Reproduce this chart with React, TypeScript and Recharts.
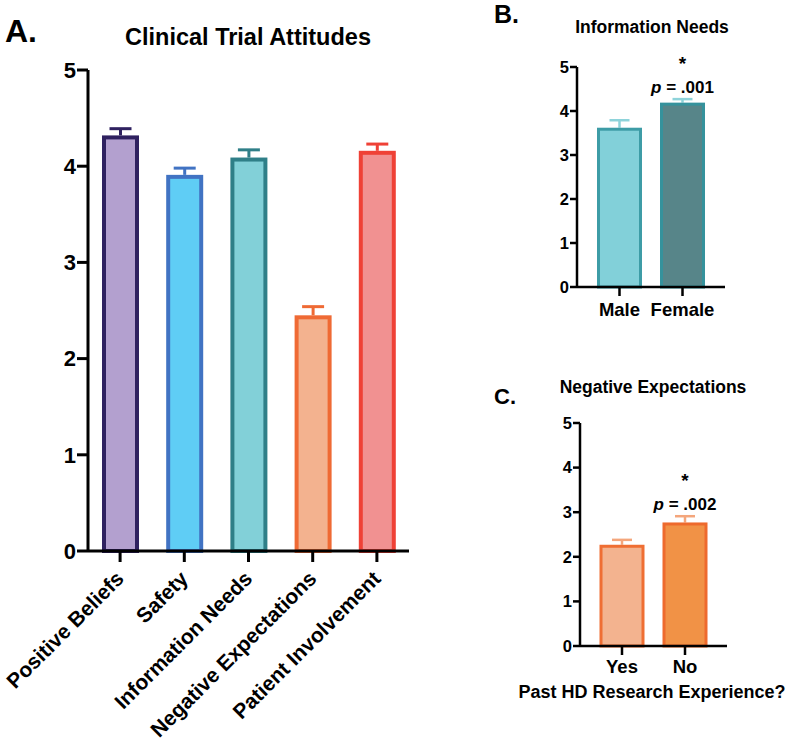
import React from "react";
import { BarChart, Bar, XAxis, YAxis } from "recharts";

// Panel A: clinical trial attitudes
const attitudeNames = [
  "Positive Beliefs",
  "Safety",
  "Information Needs",
  "Negative Expectations",
  "Patient Involvement"
];
const attitudeMeans = [4.32, 3.91, 4.09, 2.45, 4.16];
const attitudeErrors = [0.07, 0.07, 0.08, 0.09, 0.07];

// Panel B: information needs by sex
const sexGroups = ["Male", "Female"];
const infoNeedsMeans = [3.62, 4.19];
const infoNeedsErrors = [0.17, 0.08];
const infoNeedsP = ["", "p = .001"];

// Panel C: negative expectations by past HD research experience
const experienceGroups = ["Yes", "No"];
const negExpMeans = [2.27, 2.77];
const negExpErrors = [0.11, 0.14];
const negExpP = ["", "p = .002"];

const yTicks = [0, 1, 2, 3, 4, 5];

const attitudeFills = ["#b3a0cf", "#5fcdf5", "#82d0d8", "#f3b28f", "#f19191"];
const attitudeStrokes = ["#2f2160", "#4173c3", "#2f7f88", "#ef6a34", "#ef4136"];

const infoFills = ["#82d0d9", "#578589"];
const infoStrokes = ["#3d9ca6", "#35929c"];
const infoErr = ["#8ed3da", "#8ed3da"];

const negFills = ["#f3b38f", "#f19246"];
const negStrokes = ["#ef6e33", "#ee6a2d"];
const negErr = ["#f4a67c", "#f4a67c"];

const FONT = "'Liberation Sans', Arial, Helvetica, sans-serif";

const attitudeData = attitudeNames.map((name, i) => ({
  name,
  mean: attitudeMeans[i],
  err: attitudeErrors[i],
  p: ""
}));
const infoData = sexGroups.map((name, i) => ({
  name,
  mean: infoNeedsMeans[i],
  err: infoNeedsErrors[i],
  p: infoNeedsP[i]
}));
const negData = experienceGroups.map((name, i) => ({
  name,
  mean: negExpMeans[i],
  err: negExpErrors[i],
  p: negExpP[i]
}));

type ShapeOpts = {
  sw: number;
  cap: number;
  errW: number;
  fills: string[];
  strokes: string[];
  errColors: string[];
};

const makeShape = (o: ShapeOpts) => (props: any) => {
  const { x, y, width, height, index, payload } = props;
  const pxPerUnit = payload.mean > 0 ? height / payload.mean : 0;
  const errTop = y - payload.err * pxPerUnit;
  const cx = x + width / 2;
  const ec = o.errColors[index];
  return (
    <g>
      <line x1={cx} x2={cx} y1={y} y2={errTop} stroke={ec} strokeWidth={o.errW} />
      <line
        x1={cx - o.cap / 2}
        x2={cx + o.cap / 2}
        y1={errTop}
        y2={errTop}
        stroke={ec}
        strokeWidth={o.errW}
      />
      <rect
        x={x + o.sw / 2}
        y={y + o.sw / 2}
        width={width - o.sw}
        height={height - o.sw / 2}
        fill={o.fills[index]}
        stroke={o.strokes[index]}
        strokeWidth={o.sw}
      />
      {payload.p ? (
        <g fontFamily={FONT} fontWeight="bold" fill="#000">
          <text x={cx} y={errTop - 6.5} textAnchor="middle" fontSize={17}>
            <tspan fontStyle="italic">p</tspan>
            {payload.p.slice(1)}
          </text>
          <text x={cx} y={errTop - 29} textAnchor="middle" fontSize={19}>
            *
          </text>
        </g>
      ) : null}
    </g>
  );
};

const RotatedTick = (props: any) => {
  const { x, y, payload } = props;
  const ax = x + 5;
  const ay = y + 16;
  return (
    <text
      x={ax}
      y={ay}
      textAnchor="end"
      transform={`rotate(-45, ${ax}, ${ay})`}
      fontSize={21}
      fontWeight="bold"
      fontFamily={FONT}
      fill="#000"
    >
      {payload.value}
    </text>
  );
};

const overlayText = (
  x: number,
  y: number,
  s: string,
  size: number,
  anchor: "start" | "middle" = "middle"
) => (
  <text x={x} y={y} textAnchor={anchor} fontSize={size} fontWeight="bold" fontFamily={FONT} fill="#000">
    {s}
  </text>
);

export default function App() {
  const axisA = { stroke: "#000", strokeWidth: 3 };
  const axisSmall = { stroke: "#000", strokeWidth: 2.5 };
  return (
    <div
      style={{
        position: "absolute",
        left: 0,
        top: 0,
        width: 787,
        height: 745,
        background: "#fff",
        overflow: "hidden"
      }}
    >
      <div style={{ position: "absolute", left: 0, top: 0 }}>
        <BarChart
          width={470}
          height={745}
          data={attitudeData}
          margin={{ top: 70, right: 61, bottom: 44, left: 0 }}
        >
          <XAxis
            dataKey="name"
            type="category"
            interval={0}
            height={150}
            axisLine={axisA}
            tickLine={axisA}
            tickSize={11}
            tick={(p: any) => <RotatedTick {...p} />}
          />
          <YAxis
            type="number"
            domain={[0, 5]}
            ticks={yTicks}
            interval={0}
            width={88}
            axisLine={axisA}
            tickLine={axisA}
            tickSize={11}
            tickMargin={1}
            tick={{ fill: "#000", fontSize: 22, fontWeight: "bold", fontFamily: FONT }}
          />
          <Bar
            dataKey="mean"
            barSize={37}
            isAnimationActive={false}
            shape={makeShape({
              sw: 4,
              cap: 22,
              errW: 3,
              fills: attitudeFills,
              strokes: attitudeStrokes,
              errColors: attitudeStrokes
            })}
          />
        </BarChart>
      </div>

      <div style={{ position: "absolute", left: 470, top: 0 }}>
        <BarChart
          width={317}
          height={340}
          data={infoData}
          margin={{ top: 67, right: 62, bottom: 13, left: 0 }}
        >
          <XAxis
            dataKey="name"
            type="category"
            interval={0}
            height={40}
            padding={{ left: 11, right: 11 }}
            axisLine={axisSmall}
            tickLine={axisSmall}
            tickSize={9}
            tickMargin={7}
            tick={{ fill: "#000", fontSize: 18.5, fontWeight: "bold", fontFamily: FONT }}
          />
          <YAxis
            type="number"
            domain={[0, 5]}
            ticks={yTicks}
            interval={0}
            width={107}
            axisLine={axisSmall}
            tickLine={axisSmall}
            tickSize={7}
            tickMargin={1}
            tick={{ fill: "#000", fontSize: 16.5, fontWeight: "bold", fontFamily: FONT }}
          />
          <Bar
            dataKey="mean"
            barSize={45}
            isAnimationActive={false}
            shape={makeShape({
              sw: 3,
              cap: 20,
              errW: 2.5,
              fills: infoFills,
              strokes: infoStrokes,
              errColors: infoErr
            })}
          />
        </BarChart>
      </div>

      <div style={{ position: "absolute", left: 470, top: 370 }}>
        <BarChart
          width={317}
          height={375}
          data={negData}
          margin={{ top: 53, right: 60, bottom: 59, left: 0 }}
        >
          <XAxis
            dataKey="name"
            type="category"
            interval={0}
            height={40}
            padding={{ left: 10.5, right: 10.5 }}
            axisLine={axisSmall}
            tickLine={axisSmall}
            tickSize={9}
            tickMargin={5}
            tick={{ fill: "#000", fontSize: 18.5, fontWeight: "bold", fontFamily: FONT }}
          />
          <YAxis
            type="number"
            domain={[0, 5]}
            ticks={yTicks}
            interval={0}
            width={110}
            axisLine={axisSmall}
            tickLine={axisSmall}
            tickSize={7}
            tickMargin={1}
            tick={{ fill: "#000", fontSize: 16.5, fontWeight: "bold", fontFamily: FONT }}
          />
          <Bar
            dataKey="mean"
            barSize={45}
            isAnimationActive={false}
            shape={makeShape({
              sw: 3,
              cap: 20,
              errW: 2.5,
              fills: negFills,
              strokes: negStrokes,
              errColors: negErr
            })}
          />
        </BarChart>
      </div>

      <svg
        width={787}
        height={745}
        style={{ position: "absolute", left: 0, top: 0, pointerEvents: "none" }}
      >
        {overlayText(5, 42, "A.", 32, "start")}
        {overlayText(248, 45, "Clinical Trial Attitudes", 23.5)}
        {overlayText(494, 23, "B.", 25, "start")}
        {overlayText(652, 33, "Information Needs", 17.5)}
        {overlayText(494, 404, "C.", 22, "start")}
        {overlayText(653, 393, "Negative Expectations", 17.5)}
        {overlayText(652, 698, "Past HD Research Experience?", 18)}
      </svg>
    </div>
  );
}
